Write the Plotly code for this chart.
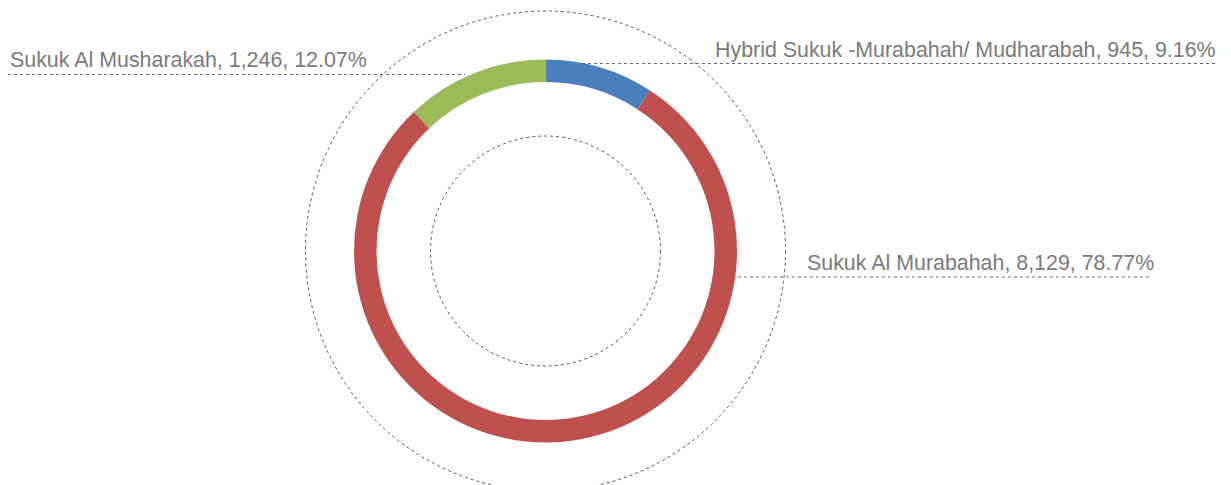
import plotly.graph_objects as go

# Sukuk issuance by structure
categories = ["Hybrid Sukuk -Murabahah/ Mudharabah", "Sukuk Al Murabahah", "Sukuk Al Musharakah"]
amounts = [945, 8129, 1246]
colors = ["#4A7FBE", "#C0504D", "#9BBB59"]

W, H = 1231, 485
CX, CY = 545.5, 251.0      # ring centre, px
R_OUT, R_IN = 191.5, 169.0  # ring radii, px


def px(x):
    return x / W


def py(y):
    return 1 - y / H


total = sum(amounts)
label_text = [f"{c}, {v:,}, {v / total * 100:.2f}%" for c, v in zip(categories, amounts)]

fig = go.Figure(
    go.Pie(
        labels=categories,
        values=amounts,
        marker=dict(colors=colors, line=dict(width=0)),
        hole=R_IN / R_OUT,
        sort=False,
        direction="clockwise",
        rotation=0,
        textinfo="none",
        hoverinfo="label+value+percent",
        domain=dict(
            x=[px(CX - R_OUT), px(CX + R_OUT)],
            y=[py(CY + R_OUT), py(CY - R_OUT)],
        ),
        showlegend=False,
    )
)

shapes = []
# decorative dotted guide circles
for r in (240, 115):
    shapes.append(dict(
        type="circle", xref="paper", yref="paper",
        x0=px(CX - r), x1=px(CX + r), y0=py(CY + r), y1=py(CY - r),
        line=dict(color="#555555", width=1, dash="dot"),
    ))

# callouts: (text index, line x0, line x1, line y, text x, anchor, text centre y)
callouts = [
    (2, 8, 465, 74.5, 8, "left", 59.5),
    (0, 582, 1218, 63.5, 1218, "right", 50.5),
    (1, 738, 1152, 277.0, 805, "left", 262.5),
]

annotations = []
for idx, lx0, lx1, ly, tx, anchor, ty in callouts:
    shapes.append(dict(
        type="line", xref="paper", yref="paper",
        x0=px(lx0), x1=px(lx1), y0=py(ly), y1=py(ly),
        line=dict(color="#666666", width=1, dash="dot"),
    ))
    annotations.append(dict(
        text=label_text[idx], xref="paper", yref="paper",
        x=px(tx), y=py(ty), xanchor=anchor, yanchor="middle",
        showarrow=False,
        font=dict(family="Liberation Sans, Arial, sans-serif", size=21.4, color="#7A7A7A"),
    ))

fig.update_layout(
    width=W, height=H,
    margin=dict(l=0, r=0, t=0, b=0),
    paper_bgcolor="white", plot_bgcolor="white",
    shapes=shapes, annotations=annotations,
)

fig.write_html("out.html")
